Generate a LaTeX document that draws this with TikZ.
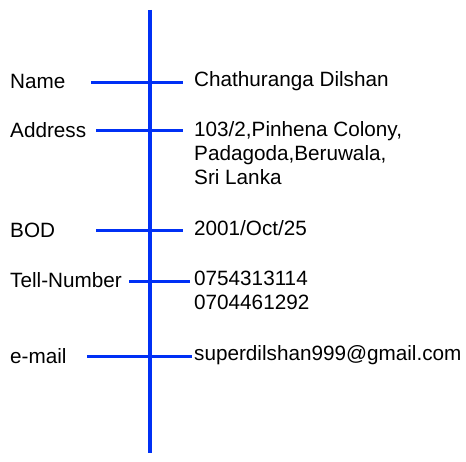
\documentclass[tikz,border=0pt]{standalone}
\usepackage{fontspec}
\setmainfont{Liberation Sans}
\definecolor{lineblue}{RGB}{0,48,245}
\tikzset{
  field/.style={anchor=base west,inner sep=0pt,font=\fontsize{20.7}{24}\selectfont},
  value/.style={field,align=left},
  tick/.style={draw=lineblue,line width=3pt},
}
\begin{document}
\begin{tikzpicture}[x=1pt,y=1pt,yscale=-1,xscale=1]
\useasboundingbox (0,0) rectangle (466,462);

%Straight Lines [main axis]
\coordinate (top) at (150,10);
\coordinate (bottom) at (150,453);
\draw [tick,line width=3.5pt] (top) -- (bottom) ;

%Straight Lines [name]
\coordinate (nameL) at (91,83);
\coordinate (nameR) at (183,83);
\draw [tick] (nameL) -- (nameR) ;

%Straight Lines [address]
\coordinate (addrL) at (96,131);
\coordinate (addrR) at (183,131);
\draw [tick] (addrL) -- (addrR) ;

%Straight Lines [bod]
\coordinate (bodL) at (96,231);
\coordinate (bodR) at (183,231);
\draw [tick] (bodL) -- (bodR) ;

%Straight Lines [tell]
\coordinate (tellL) at (129,282);
\coordinate (tellR) at (190,282);
\draw [tick] (tellL) -- (tellR) ;

%Straight Lines [mail]
\coordinate (mailL) at (87,357);
\coordinate (mailR) at (192,357);
\draw [tick] (mailL) -- (mailR) ;

% Text Node
\node [field] (nameT) at (10,89) {Name};
% Text Node
\node [value] (nameV) at (194,87) {Chathuranga Dilshan};
% Text Node
\node [field] (addrT) at (10,138) {Address};
% Text Node (base = last line)
\node [value] (addrV) at (194,184.5) {103/2,Pinhena Colony,\\Padagoda,Beruwala,\\Sri Lanka};
% Text Node
\node [field] (bodT) at (10,238) {BOD};
% Text Node
\node [value] (bodV) at (194,236) {2001/Oct/25};
% Text Node
\node [field] (tellT) at (10,288) {Tell-Number};
% Text Node (base = last line)
\node [value] (tellV) at (194,310) {0754313114\\0704461292};
% Text Node
\node [field] (mailT) at (10,363) {e-mail};
% Text Node
\node [value] (mailV) at (194,360) {superdilshan999@gmail.com};

\end{tikzpicture}
\end{document}
